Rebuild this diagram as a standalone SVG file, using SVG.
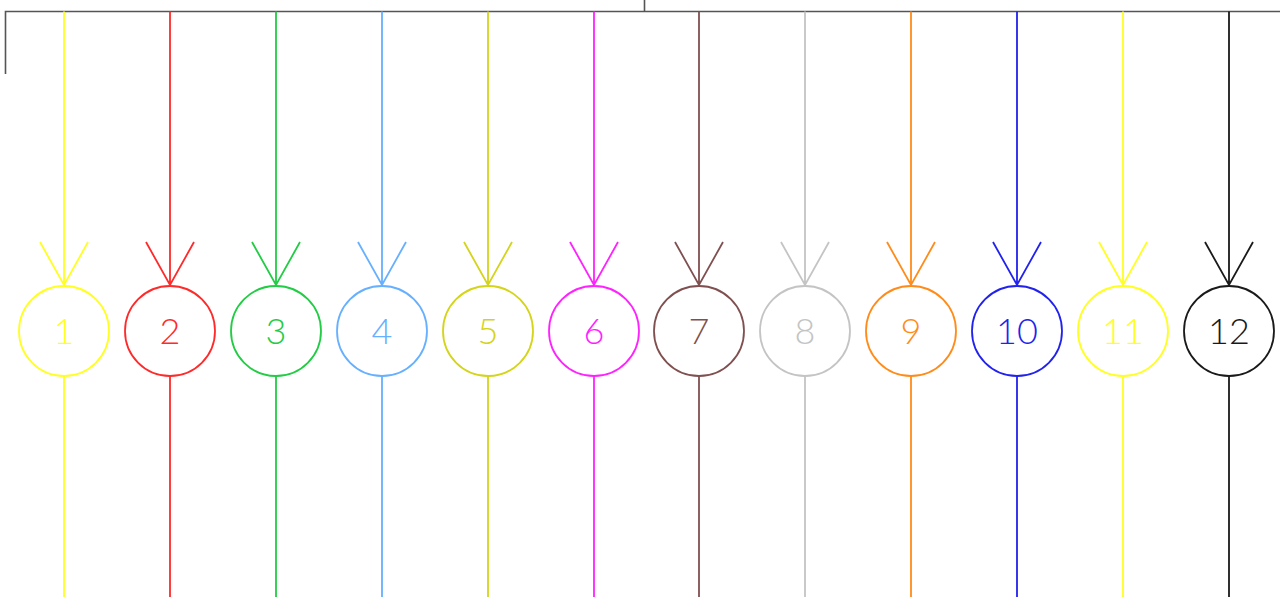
<svg xmlns="http://www.w3.org/2000/svg" width="1281" height="604" viewBox="0 0 1281 604">
<style>
.c{fill:none;stroke-width:1.8}
.l{fill:none;stroke-width:1.8}
.t{font-family:"Lato","DejaVu Sans",sans-serif;font-size:36px;font-weight:300;text-anchor:middle}
.bus{fill:none;stroke:#555;stroke-width:1.6}
</style>
<rect width="1281" height="604" fill="#fff"/>
<g id="connectors">
<path class="bus" d="M5.5 74V11.5H1280M644.5 0V11.5"/>
<g stroke="#ffff22" class="l"><path d="M64 11.5V285M40 242L64 285L88 242M64 376V597"/></g>
<g stroke="#ff2a2a" class="l"><path d="M170 11.5V285M146 242L170 285L194 242M170 376V597"/></g>
<g stroke="#22cc44" class="l"><path d="M276 11.5V285M252 242L276 285L300 242M276 376V597"/></g>
<g stroke="#66b0ff" class="l"><path d="M382 11.5V285M358 242L382 285L406 242M382 376V597"/></g>
<g stroke="#d4d41a" class="l"><path d="M488 11.5V285M464 242L488 285L512 242M488 376V597"/></g>
<g stroke="#ff22ff" class="l"><path d="M594 11.5V285M570 242L594 285L618 242M594 376V597"/></g>
<g stroke="#805050" class="l"><path d="M699 11.5V285M675 242L699 285L723 242M699 376V597"/></g>
<g stroke="#c4c4c4" class="l"><path d="M805 11.5V285M781 242L805 285L829 242M805 376V597"/></g>
<g stroke="#ff8c1a" class="l"><path d="M911 11.5V285M887 242L911 285L935 242M911 376V597"/></g>
<g stroke="#2222ee" class="l"><path d="M1017 11.5V285M993 242L1017 285L1041 242M1017 376V597"/></g>
<g stroke="#ffff22" class="l"><path d="M1123 11.5V285M1099 242L1123 285L1147 242M1123 376V597"/></g>
<g stroke="#1a1a1a" class="l"><path d="M1229 11.5V285M1205 242L1229 285L1253 242M1229 376V597"/></g>
</g>
<g id="n1"><circle class="c" cx="64" cy="331" r="45" stroke="#ffff22"/><text class="t" x="64" y="344" fill="#ffff22">1</text></g>
<g id="n2"><circle class="c" cx="170" cy="331" r="45" stroke="#ff2a2a"/><text class="t" x="170" y="344" fill="#ff2a2a">2</text></g>
<g id="n3"><circle class="c" cx="276" cy="331" r="45" stroke="#22cc44"/><text class="t" x="276" y="344" fill="#22cc44">3</text></g>
<g id="n4"><circle class="c" cx="382" cy="331" r="45" stroke="#66b0ff"/><text class="t" x="382" y="344" fill="#66b0ff">4</text></g>
<g id="n5"><circle class="c" cx="488" cy="331" r="45" stroke="#d4d41a"/><text class="t" x="488" y="344" fill="#d4d41a">5</text></g>
<g id="n6"><circle class="c" cx="594" cy="331" r="45" stroke="#ff22ff"/><text class="t" x="594" y="344" fill="#ff22ff">6</text></g>
<g id="n7"><circle class="c" cx="699" cy="331" r="45" stroke="#805050"/><text class="t" x="699" y="344" fill="#805050">7</text></g>
<g id="n8"><circle class="c" cx="805" cy="331" r="45" stroke="#c4c4c4"/><text class="t" x="805" y="344" fill="#c4c4c4">8</text></g>
<g id="n9"><circle class="c" cx="911" cy="331" r="45" stroke="#ff8c1a"/><text class="t" x="911" y="344" fill="#ff8c1a">9</text></g>
<g id="n10"><circle class="c" cx="1017" cy="331" r="45" stroke="#2222ee"/><text class="t" x="1017" y="344" fill="#2222ee">10</text></g>
<g id="n11"><circle class="c" cx="1123" cy="331" r="45" stroke="#ffff22"/><text class="t" x="1123" y="344" fill="#ffff22">11</text></g>
<g id="n12"><circle class="c" cx="1229" cy="331" r="45" stroke="#1a1a1a"/><text class="t" x="1229" y="344" fill="#1a1a1a">12</text></g>
</svg>
